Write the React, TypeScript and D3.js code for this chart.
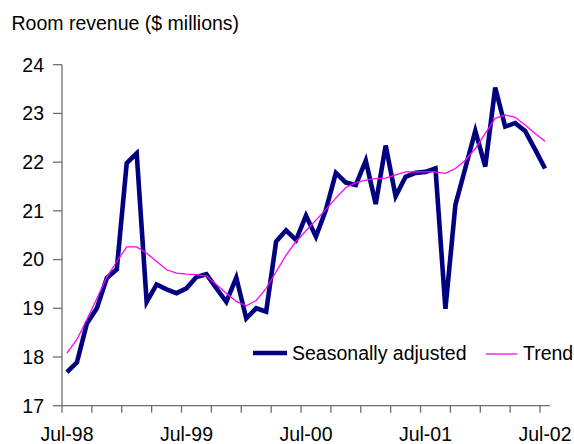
import React from "react";
import * as d3 from "d3";

const seasonallyAdjusted = [
  17.69, 17.89, 18.69, 19.0, 19.62, 19.8, 21.98, 22.18, 19.13, 19.49, 19.39, 19.31,
  19.41, 19.64, 19.7, 19.41, 19.13, 19.63, 18.79, 19.0, 18.93, 20.37, 20.6, 20.4,
  20.9, 20.47, 21.02, 21.78, 21.58, 21.53, 22.03, 21.14, 22.34, 21.3, 21.7, 21.78,
  21.8, 21.87, 18.99, 21.12, 21.88, 22.64, 21.91, 23.53, 22.73, 22.8, 22.64, 22.26,
  21.87,
];

const trend = [
  18.08, 18.36, 18.77, 19.2, 19.64, 19.96, 20.26, 20.26, 20.13, 19.96, 19.79, 19.72,
  19.7, 19.69, 19.66, 19.49, 19.31, 19.14, 19.05, 19.16, 19.41, 19.75, 20.09, 20.37,
  20.59, 20.81, 21.03, 21.26, 21.48, 21.58, 21.63, 21.66, 21.67, 21.74, 21.8, 21.8,
  21.8, 21.8, 21.77, 21.87, 22.04, 22.28, 22.59, 22.9, 22.97, 22.92, 22.76, 22.59,
  22.43,
];

const monthNames = ["Jul", "Aug", "Sep", "Oct", "Nov", "Dec", "Jan", "Feb", "Mar", "Apr", "May", "Jun"];
const yearLabels = ["98", "99", "00", "01", "02"];
const categories: string[] = seasonallyAdjusted.map(
  (_, i) => `${monthNames[i % 12]}-${yearLabels[Math.floor((i + 6) / 12)]}`
);
const xTickLabels = ["Jul-98", "Jul-99", "Jul-00", "Jul-01", "Jul-02"];
const yTicks = [17, 18, 19, 20, 21, 22, 23, 24];
const seriesNames = ["Seasonally adjusted", "Trend"];
const yTitle = "Room revenue ($ millions)";

const FONT = "'Liberation Sans', Arial, sans-serif";
const FS = 19.5;

export default function App() {
  const x = d3.scaleBand<string>().domain(categories).range([62, 550]).padding(0);
  const y = d3.scaleLinear().domain([17, 24]).range([405.7, 64.7]);
  const cx = (i: number) => (x(categories[i]) as number) + x.bandwidth() / 2;

  const line = d3
    .line<number>()
    .x((_, i) => cx(i))
    .y((d) => y(d));

  const axisColor = "#6e6e6e";
  const tickIdx = categories.map((_, i) => i).filter((i) => i % 3 === 0);

  return (
    <svg
      width={574}
      height={444}
      style={{ position: "absolute", left: 0, top: 0, background: "#fff" }}
      fontFamily={FONT}
    >
      <text x={11.5} y={30} fontSize={FS} fill="#000">
        {yTitle}
      </text>

      {/* y axis */}
      <line x1={62} x2={62} y1={y(24)} y2={y(17)} stroke={axisColor} strokeWidth={1.3} />
      {yTicks.map((t) => (
        <g key={t}>
          <line x1={53} x2={62} y1={y(t)} y2={y(t)} stroke={axisColor} strokeWidth={1.3} />
          <text x={44} y={y(t)} dy="0.35em" textAnchor="end" fontSize={FS} fill="#000">
            {t}
          </text>
        </g>
      ))}

      {/* x axis */}
      <line x1={62} x2={550} y1={y(17)} y2={y(17)} stroke={axisColor} strokeWidth={1.3} />
      {tickIdx.map((i) => (
        <line
          key={i}
          x1={x(categories[i]) as number}
          x2={x(categories[i]) as number}
          y1={y(17)}
          y2={y(17) + 7}
          stroke={axisColor}
          strokeWidth={1.3}
        />
      ))}
      {xTickLabels.map((lab) => {
        const i = categories.indexOf(lab);
        return (
          <text key={lab} x={cx(i)} y={440.5} textAnchor="middle" fontSize={FS} fill="#000">
            {lab}
          </text>
        );
      })}

      {/* series */}
      <path d={line(seasonallyAdjusted) ?? ""} fill="none" stroke="#000080" strokeWidth={4.6} strokeLinejoin="miter" />
      <path d={line(trend) ?? ""} fill="none" stroke="#ff00ff" strokeWidth={1.3} />

      {/* legend */}
      <line x1={253} x2={287} y1={353} y2={353} stroke="#000080" strokeWidth={4.6} />
      <text x={292} y={360} fontSize={FS} fill="#000">
        {seriesNames[0]}
      </text>
      <line x1={486} x2={517} y1={354} y2={354} stroke="#ff00ff" strokeWidth={1.3} />
      <text x={523} y={360} fontSize={FS} fill="#000">
        {seriesNames[1]}
      </text>
    </svg>
  );
}
